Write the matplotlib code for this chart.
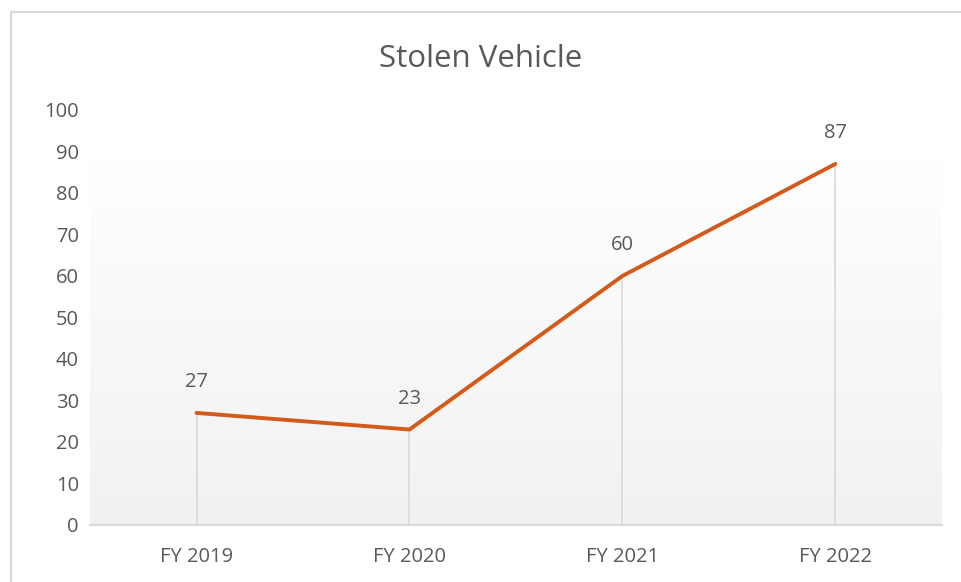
import numpy as np
import matplotlib.pyplot as plt
from matplotlib.colors import LinearSegmentedColormap
from matplotlib.lines import Line2D

plt.rcParams['font.family'] = ['Open Sans', 'DejaVu Sans']

years = ['FY 2019', 'FY 2020', 'FY 2021', 'FY 2022']
stolen = [27, 23, 60, 87]
y_ticks = [0, 10, 20, 30, 40, 50, 60, 70, 80, 90, 100]

grey_text = '#595959'
line_col = '#D35A1A'

fig = plt.figure(figsize=(9.61, 5.82), dpi=100)
ax = fig.add_axes([0.0937, 0.098, 0.8863, 0.713])

x = np.arange(len(years))

# gradient background behind the data area
cmap = LinearSegmentedColormap.from_list('bg', ['#f1f1f1', '#ffffff'])
grad = np.linspace(0, 1, 256).reshape(-1, 1)
ax.imshow(grad, cmap=cmap, aspect='auto', origin='lower',
          extent=[-0.5, len(years) - 0.5, 0, 88.5], zorder=0)

# drop lines
ax.vlines(x, 0, stolen, color='#d9d9d9', lw=1.2, zorder=1)

ax.plot(x, stolen, color=line_col, lw=2.8, solid_capstyle='round', zorder=3)

for xi, v in zip(x, stolen):
    ax.annotate(str(v), (xi, v), xytext=(0, 22), textcoords='offset points',
                ha='center', va='center', fontsize=14.5, color=grey_text)

ax.set_xlim(-0.5, len(years) - 0.5)
ax.set_ylim(0, 100)
ax.set_xticks(x)
ax.set_xticklabels(years)
ax.set_yticks(y_ticks)
ax.tick_params(axis='both', length=0, labelsize=14.5, colors=grey_text)
ax.tick_params(axis='x', pad=16)
ax.tick_params(axis='y', pad=8)

for s in ['top', 'right', 'left']:
    ax.spines[s].set_visible(False)
ax.spines['bottom'].set_color('#d9d9d9')
ax.spines['bottom'].set_linewidth(1.5)

fig.text(0.5, 0.898, 'Stolen Vehicle', ha='center', va='center',
         fontsize=22.5, color=grey_text)

# chart border (top and left edges visible)
fig.add_artist(Line2D([11 / 961, 11 / 961], [0, 1 - 12 / 582],
                      transform=fig.transFigure, color='#d9d9d9', lw=1.5))
fig.add_artist(Line2D([11 / 961, 1], [1 - 12 / 582, 1 - 12 / 582],
                      transform=fig.transFigure, color='#d9d9d9', lw=1.5))

fig.savefig('out.png', dpi=100)
